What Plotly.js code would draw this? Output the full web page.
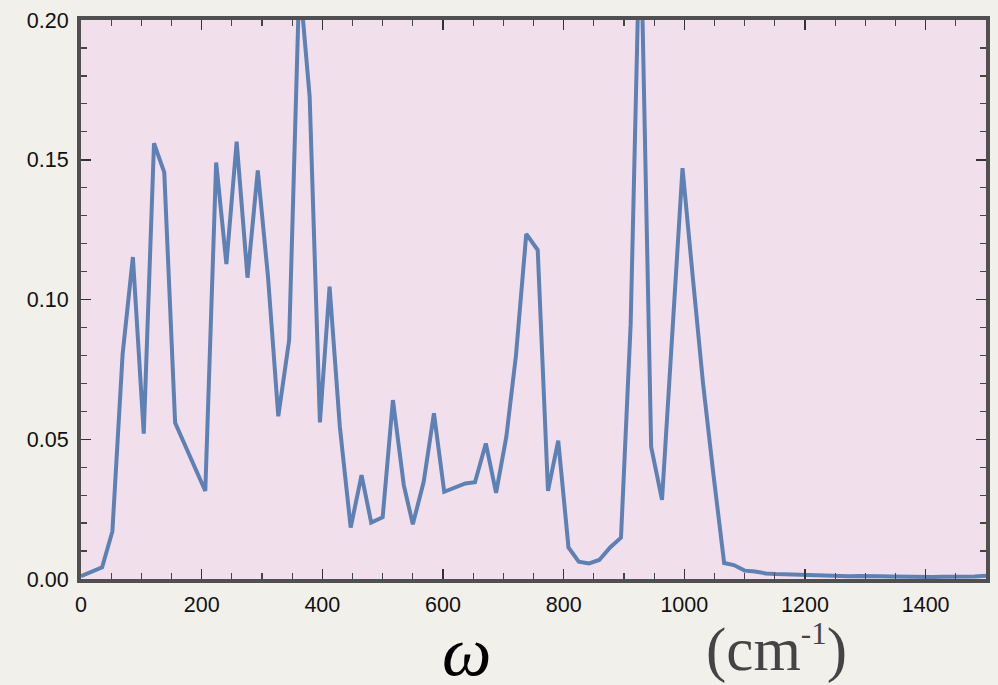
<!DOCTYPE html>
<html>
<head>
<meta charset="utf-8">
<script src="https://cdn.plot.ly/plotly-3.0.1.min.js"></script>
<style>
  html, body { margin: 0; padding: 0; background: #f2f0eb; }
  #chart { width: 998px; height: 685px; }
</style>
</head>
<body>
<div id="chart"></div>
<script>
// Frequency (cm^-1)
const omega = [0, 17, 35, 52, 69, 86, 104, 121, 138, 156, 173, 190, 206, 224, 241, 258, 276, 293, 310, 327,
  345, 362, 379, 396, 412, 429, 447, 465, 481, 500, 517, 535, 550, 568, 585, 602, 619, 637, 653, 671,
  688, 705, 721, 738, 757, 774, 791, 808, 825, 842, 859, 877, 895, 911, 927, 945, 963, 980, 997, 1014,
  1031, 1048, 1066, 1082, 1100, 1117, 1135, 1152, 1169, 1187, 1204, 1221, 1239, 1256, 1273, 1291, 1308,
  1325, 1343, 1360, 1377, 1395, 1412, 1429, 1447, 1464, 1481, 1500];
// Spectral values
const intensity = [0.001, 0.0025, 0.0042, 0.017, 0.0805, 0.1152, 0.052, 0.1559, 0.1455, 0.0559, 0.0476, 0.0392,
  0.0315, 0.149, 0.1127, 0.1565, 0.1078, 0.1462, 0.108, 0.0582, 0.0855, 0.215, 0.1725, 0.056, 0.1046,
  0.0545, 0.0184, 0.0372, 0.0202, 0.0221, 0.064, 0.0336, 0.0196, 0.0348, 0.0593, 0.0312, 0.0325, 0.0342,
  0.0346, 0.0485, 0.0308, 0.0509, 0.0801, 0.1235, 0.1177, 0.0315, 0.0495, 0.0113, 0.0062, 0.0056, 0.0068,
  0.0113, 0.0148, 0.091, 0.24, 0.0473, 0.0283, 0.088, 0.147, 0.108, 0.07, 0.0378, 0.0057, 0.005, 0.003,
  0.0027, 0.002, 0.0018, 0.0017, 0.0013, 0.0012, 0.0011, 0.0011, 0.001, 0.001, 0.0011, 0.0012, 0.001,
  0.0009, 0.0008, 0.0008, 0.0007, 0.0007, 0.0008, 0.0008, 0.0008, 0.0009, 0.0012];
const xTickVals = [0, 200, 400, 600, 800, 1000, 1200, 1400];
const yTickVals = [0.00, 0.05, 0.10, 0.15, 0.20];
const xLabelSymbol = 'ω';
const xLabelUnit = '(cm<sup><span style="font-size:31px">-1</span></sup>)';

const trace = {
  x: omega, y: intensity, type: 'scatter', mode: 'lines',
  line: { color: '#5e81b5', width: 4 },
  hoverinfo: 'skip'
};

const axisCommon = {
  showline: true, linewidth: 4, linecolor: '#505050', mirror: 'allticks',
  ticks: 'inside', ticklen: 10, tickwidth: 1.5, tickcolor: '#333333',
  showgrid: false, zeroline: false,
  tickfont: { family: 'Liberation Sans, Arial, sans-serif', size: 21.5, color: '#111111' }
};

const layout = {
  width: 998, height: 685,
  margin: { l: 81, r: 12, t: 20, b: 106 },
  paper_bgcolor: '#f2f0eb',
  plot_bgcolor: '#f2dfec',
  showlegend: false,
  xaxis: Object.assign({}, axisCommon, {
    range: [0, 1500], tickmode: 'array', tickvals: xTickVals,
    ticktext: xTickVals.map(String),
    ticklabelstandoff: 3,
    minor: { dtick: 50, ticks: 'inside', ticklen: 6, tickwidth: 1.2, tickcolor: '#444444', showgrid: false }
  }),
  yaxis: Object.assign({}, axisCommon, {
    range: [0, 0.2], tickmode: 'array', tickvals: yTickVals,
    ticktext: yTickVals.map(v => v.toFixed(2)),
    ticklabelstandoff: 4,
    minor: { dtick: 0.01, ticks: 'inside', ticklen: 6, tickwidth: 1.2, tickcolor: '#444444', showgrid: false }
  }),
  annotations: [
    { text: xLabelSymbol, xref: 'paper', yref: 'paper', x: 0.4265, y: -0.13,
      xanchor: 'center', yanchor: 'middle', showarrow: false,
      font: { family: 'Liberation Serif, Times New Roman, serif', size: 70, color: '#000000', style: 'italic' } },
    { text: xLabelUnit, xref: 'paper', yref: 'paper', x: 0.769, y: -0.127,
      xanchor: 'center', yanchor: 'middle', showarrow: false,
      font: { family: 'Liberation Serif, Times New Roman, serif', size: 61, color: '#444444' } }
  ]
};

Plotly.newPlot('chart', [trace], layout, { staticPlot: true, displayModeBar: false });
</script>
</body>
</html>
